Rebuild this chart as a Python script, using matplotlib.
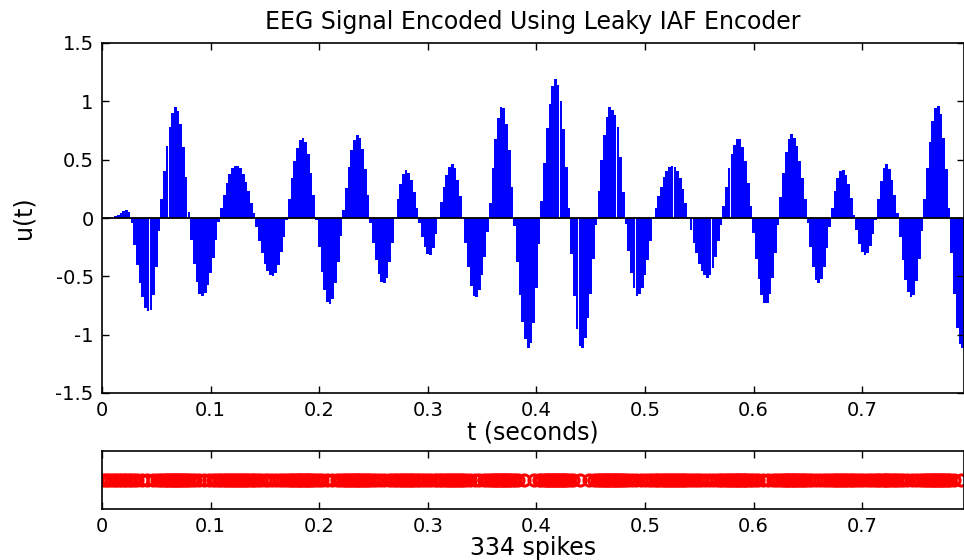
import numpy as np
import matplotlib
matplotlib.use("Agg")
import matplotlib.pyplot as plt

# EEG samples, one every 2.5 ms starting at t = 0
dt = 0.0025
u = [0.00, 0.00, 0.00, 0.00, 0.00, 0.015, 0.03, 0.045, 0.06, 0.07,
     0.05, -0.04, -0.23, -0.40, -0.56, -0.68, -0.77, -0.80, -0.79, -0.66,
     -0.42, -0.11, 0.16, 0.40, 0.62, 0.78, 0.90, 0.95, 0.92, 0.81,
     0.61, 0.35, 0.05, -0.19, -0.39, -0.55, -0.65, -0.67, -0.64, -0.57,
     -0.47, -0.34, -0.19, -0.03, 0.09, 0.20, 0.30, 0.38, 0.43, 0.45,
     0.45, 0.43, 0.38, 0.31, 0.23, 0.13, 0.04, -0.08, -0.20, -0.30,
     -0.39, -0.45, -0.49, -0.50, -0.47, -0.40, -0.29, -0.16, -0.02, 0.16,
     0.34, 0.49, 0.60, 0.67, 0.69, 0.65, 0.55, 0.39, 0.20, -0.02,
     -0.25, -0.46, -0.62, -0.72, -0.74, -0.69, -0.56, -0.38, -0.15, 0.07,
     0.26, 0.44, 0.58, 0.67, 0.71, 0.69, 0.59, 0.42, 0.20, -0.04,
     -0.21, -0.36, -0.48, -0.55, -0.56, -0.51, -0.38, -0.21, 0.00, 0.16,
     0.29, 0.38, 0.41, 0.39, 0.33, 0.22, 0.09, -0.04, -0.16, -0.25,
     -0.31, -0.32, -0.26, -0.14, 0.00, 0.14, 0.27, 0.37, 0.44, 0.46,
     0.43, 0.33, 0.19, 0.01, -0.21, -0.42, -0.58, -0.67, -0.68, -0.62,
     -0.49, -0.33, -0.12, 0.13, 0.43, 0.68, 0.86, 0.95, 0.94, 0.81,
     0.58, 0.27, -0.07, -0.38, -0.66, -0.89, -1.04, -1.11, -1.07, -0.90,
     -0.60, -0.22, 0.15, 0.47, 0.77, 0.98, 1.13, 1.19, 1.14, 1.00,
     0.76, 0.44, 0.09, -0.31, -0.67, -0.95, -1.10, -1.11, -1.03, -0.86,
     -0.65, -0.35, -0.06, 0.23, 0.50, 0.71, 0.87, 0.95, 0.93, 0.88,
     0.78, 0.52, 0.22, -0.05, -0.28, -0.47, -0.60, -0.67, -0.65, -0.60,
     -0.49, -0.36, -0.20, 0.00, 0.09, 0.19, 0.27, 0.35, 0.40, 0.44,
     0.45, 0.44, 0.40, 0.34, 0.25, 0.13, 0.01, -0.10, -0.21, -0.30,
     -0.39, -0.45, -0.49, -0.51, -0.49, -0.43, -0.33, -0.20, -0.06, 0.10,
     0.27, 0.43, 0.55, 0.63, 0.68, 0.68, 0.61, 0.49, 0.30, 0.10,
     -0.13, -0.35, -0.52, -0.66, -0.73, -0.73, -0.65, -0.51, -0.30, -0.06,
     0.18, 0.39, 0.57, 0.68, 0.72, 0.69, 0.62, 0.49, 0.34, 0.16,
     -0.04, -0.25, -0.42, -0.53, -0.56, -0.52, -0.42, -0.26, -0.08, 0.09,
     0.23, 0.34, 0.40, 0.41, 0.37, 0.29, 0.17, 0.03, -0.10, -0.22,
     -0.29, -0.32, -0.30, -0.24, -0.14, -0.02, 0.16, 0.32, 0.43, 0.46,
     0.42, 0.33, 0.20, 0.04, -0.16, -0.36, -0.53, -0.63, -0.68, -0.66,
     -0.54, -0.35, -0.11, 0.16, 0.43, 0.65, 0.83, 0.94, 0.96, 0.89,
     0.69, 0.42, 0.09, -0.30, -0.65, -0.94, -1.08, -1.11, -1.10]
u = np.array(u)
t = np.arange(len(u)) * dt

n_spikes = 334
bias = 1.4

xticks = [0, 0.1, 0.2, 0.3, 0.4, 0.5, 0.6, 0.7]
xticklabels = ['0', '0.1', '0.2', '0.3', '0.4', '0.5', '0.6', '0.7']
yticks = [-1.5, -1, -0.5, 0, 0.5, 1, 1.5]
yticklabels = ['-1.5', '-1', '-0.5', '0', '0.5', '1', '1.5']

# integrate-and-fire on the held samples -> spike times
integ = np.concatenate([[0], np.cumsum((u + bias) * dt)])
edges = np.concatenate([t - dt / 2, [t[-1] + dt / 2]])
q = integ[-1] / (n_spikes + 0.5)
spikes = np.interp(np.arange(1, n_spikes + 1) * q, integ, edges)

fig = plt.figure(figsize=(9.64, 5.6), dpi=100)
ax = fig.add_axes([102/964, 1 - 393/560, 861.5/964, 350/560])
ax2 = fig.add_axes([102/964, 1 - 509/560, 861.5/964, 58/560])

ax.bar(t, u, width=0.00245, color='#0000ff', linewidth=0)
ax.axhline(0, color='black', lw=1.3)
ax.set_xlim(0, 861.5/1086)
ax.set_ylim(-1.5, 1.5)
ax.set_xticks(xticks)
ax.set_xticklabels(xticklabels)
ax.set_yticks(yticks)
ax.set_yticklabels(yticklabels)
ax.set_title("EEG Signal Encoded Using Leaky IAF Encoder", fontsize=17, pad=10)
ax.set_xlabel("t (seconds)", fontsize=17, labelpad=0)
ax.set_ylabel("u(t)", fontsize=17, labelpad=14)

ax2.plot(spikes, np.zeros_like(spikes), 'o', ms=8, mfc='none', mec='red', mew=2.2)
ax2.set_xlim(0, 861.5/1086)
ax2.set_ylim(-1, 1)
ax2.set_xticks(xticks)
ax2.set_xticklabels(xticklabels)
ax2.set_yticks([])
ax2.set_xlabel("%d spikes" % len(spikes), fontsize=17, labelpad=0)

for a in (ax, ax2):
    a.tick_params(direction='in', top=True, right=True, length=5, width=1,
                  labelsize=14, pad=6)
    for s in a.spines.values():
        s.set_linewidth(1.2)

plt.savefig("out.png", dpi=100)
